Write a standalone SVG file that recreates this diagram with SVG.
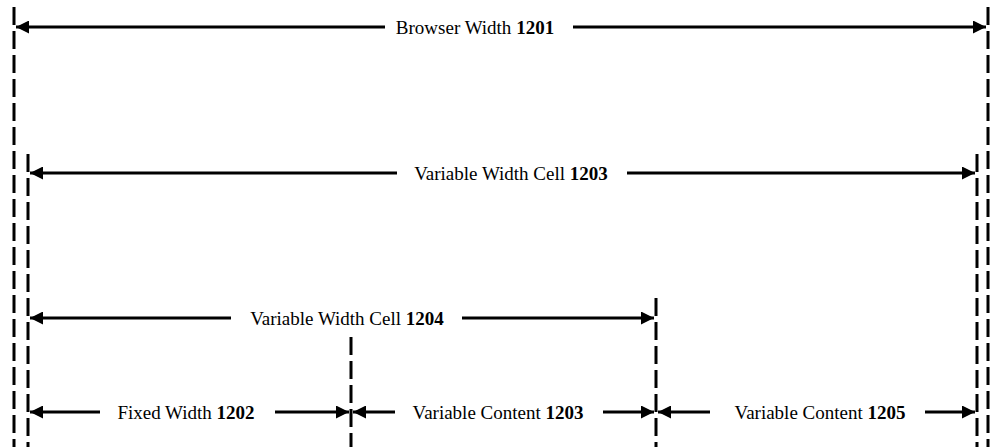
<svg xmlns="http://www.w3.org/2000/svg" width="992" height="447" viewBox="0 0 992 447">
  <defs>
    <style>
      .guide { stroke: #000; stroke-width: 3; stroke-dasharray: 18 6; fill: none; }
      .dim { stroke: #000; stroke-width: 3; fill: none; }
      .lbl { font-family: "Liberation Serif", "Times New Roman", serif; font-size: 19px; fill: #000; text-anchor: middle; }
      .num { font-weight: bold; }
    </style>
    <marker id="head-end" markerUnits="userSpaceOnUse" markerWidth="13" markerHeight="13" viewBox="0 0 13 13" refX="13" refY="6.5" orient="auto">
      <path d="M0,0 L13,6.5 L0,13 z" fill="#000"/>
    </marker>
  </defs>

  <rect width="992" height="447" fill="#fff"/>

  <!-- dashed boundary guides -->
  <g id="guides">
    <line class="guide" x1="14" y1="7" x2="14" y2="447"/>
    <line class="guide" x1="988" y1="7" x2="988" y2="447"/>
    <line class="guide" x1="28" y1="154" x2="28" y2="447"/>
    <line class="guide" x1="977" y1="154" x2="977" y2="447"/>
    <line class="guide" x1="656" y1="298" x2="656" y2="447"/>
    <line class="guide" x1="351" y1="337" x2="351" y2="447"/>
  </g>

  <!-- dimension arrows -->
  <g id="connectors">
    <line class="dim" x1="385" y1="27" x2="16" y2="27" marker-end="url(#head-end)"/>
    <line class="dim" x1="573" y1="27" x2="986" y2="27" marker-end="url(#head-end)"/>

    <line class="dim" x1="397" y1="173" x2="30" y2="173" marker-end="url(#head-end)"/>
    <line class="dim" x1="627" y1="173" x2="975" y2="173" marker-end="url(#head-end)"/>

    <line class="dim" x1="231" y1="318" x2="30" y2="318" marker-end="url(#head-end)"/>
    <line class="dim" x1="462" y1="318" x2="654" y2="318" marker-end="url(#head-end)"/>

    <line class="dim" x1="100" y1="412" x2="30" y2="412" marker-end="url(#head-end)"/>
    <line class="dim" x1="275" y1="412" x2="349" y2="412" marker-end="url(#head-end)"/>

    <line class="dim" x1="395" y1="412" x2="353" y2="412" marker-end="url(#head-end)"/>
    <line class="dim" x1="603" y1="412" x2="654" y2="412" marker-end="url(#head-end)"/>

    <line class="dim" x1="710" y1="412" x2="658" y2="412" marker-end="url(#head-end)"/>
    <line class="dim" x1="925" y1="412" x2="975" y2="412" marker-end="url(#head-end)"/>
  </g>

  <g id="browser-width">
    <text class="lbl" x="475" y="34">Browser Width <tspan class="num">1201</tspan></text>
  </g>
  <g id="cell-1203">
    <text class="lbl" x="511" y="180">Variable Width Cell <tspan class="num">1203</tspan></text>
  </g>
  <g id="cell-1204">
    <text class="lbl" x="347" y="325">Variable Width Cell <tspan class="num">1204</tspan></text>
  </g>
  <g id="fixed-1202">
    <text class="lbl" x="186" y="419">Fixed Width <tspan class="num">1202</tspan></text>
  </g>
  <g id="content-1203">
    <text class="lbl" x="498" y="419">Variable Content <tspan class="num">1203</tspan></text>
  </g>
  <g id="content-1205">
    <text class="lbl" x="820" y="419">Variable Content <tspan class="num">1205</tspan></text>
  </g>
</svg>
